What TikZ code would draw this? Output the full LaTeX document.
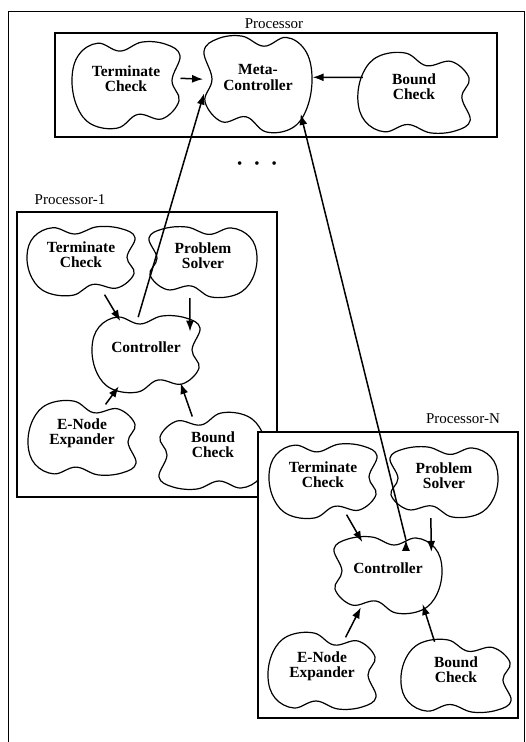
\documentclass[tikz,border=0pt]{standalone}
\usepackage{fontspec}
\setmainfont{Liberation Serif}
\usetikzlibrary{arrows.meta,shapes.geometric}
\tikzset{
  cloudn/.style={ellipse, minimum width=110pt, minimum height=74pt, inner sep=0pt, align=center, text depth=13pt, font=\fontsize{15.5}{15.5}\selectfont\bfseries},
  cloudtop/.style={cloudn, minimum height=84pt},
  cloudmeta/.style={cloudn, minimum height=94pt},
  blobline/.style={draw=black, line width=1.2pt},
  procbox/.style={draw=black, line width=1.8pt},
  framel/.style={draw=black, line width=1pt},
  plabel/.style={font=\fontsize{15}{15}\selectfont, inner sep=0pt},
  dotsn/.style={font=\fontsize{15}{15}\selectfont, inner sep=0pt},
  flow/.style={draw, line width=1.5pt, -{Latex[length=11pt,width=8pt]}},
}
\newcommand{\blobat}[2][]{%
  \draw[blobline, shift={(#2.center)}, #1] plot[smooth cycle, tension=0.65] coordinates {(-54,-6) (-47,-27) (-28,-37) (-6,-30) (16,-38) (40,-36) (54,-26) (46,-4) (53,14) (36,30) (12,26) (-8,38) (-34,35) (-49,19)};}

\begin{document}
\begin{tikzpicture}[x=1pt, y=-1pt]
  \useasboundingbox (0,0) rectangle (526,742);
  % outer frame
  \draw[framel] (8,742) -- (8,11) -- (524,11) -- (524,742);

  % processor
  \node[plabel] (lprocm) at (274,24) {Processor};
  \draw[procbox] (55,33) rectangle (497,137);
  \node[cloudtop] (tcm) at (126,85) {Terminate\\Check};
  \node[cloudmeta] (meta) at (258,84) {Meta-\\Controller};
  \node[cloudtop] (bcm) at (414,93) {Bound\\Check};
  \blobat[yscale=1.13]{tcm}
  \blobat[xscale=-1, yscale=1.26]{meta}
  \blobat[xscale=1.04, yscale=-1.05]{bcm}

  \node[dotsn] (dots) at (257,165) {\textbullet\hspace{12pt}\textbullet\hspace{12pt}\textbullet};

  % processor-1
  \node[plabel] (lproc1) at (70,200) {Processor-1};
  \draw[procbox] (17,212) rectangle (277,497);
  \node[cloudn] (tc1) at (81,261) {Terminate\\Check};
  \node[cloudn] (ps1) at (203,262) {Problem\\Solver};
  \node[cloudn] (c1) at (146,354) {Controller};
  \node[cloudn] (en1) at (82,438) {E-Node\\Expander};
  \node[cloudn] (bc1) at (213,451) {Bound\\Check};
  \blobat[yscale=0.9]{tc1}
  \blobat[xscale=-1, yscale=0.92]{ps1}
  \blobat{c1}
  \blobat[yscale=-0.97]{en1}
  \blobat[xscale=-1, yscale=-1]{bc1}

  % processor-N
  \node[plabel] (lprocn) at (463,419) {Processor-N};
  \draw[procbox, fill=white] (258,432) rectangle (518,718);
  \node[cloudn] (tcN) at (323,481) {Terminate\\Check};
  \node[cloudn] (psN) at (444,482) {Problem\\Solver};
  \node[cloudn] (cN) at (388,575) {Controller};
  \node[cloudn] (enN) at (322,671) {E-Node\\Expander};
  \node[cloudn] (bcN) at (456,676) {Bound\\Check};
  \blobat[yscale=0.97]{tcN}
  \blobat[xscale=-1, yscale=0.92]{psN}
  \blobat[xscale=-1]{cN}
  \blobat[yscale=-1]{enN}
  \blobat[xscale=1.02, yscale=-0.95]{bcN}

  \path[flow]
    (tcm.7) edge (meta.175)
    (bcm.163) edge (meta.7)
    % processor-1
    (tc1.305) edge (c1.128)
    (ps1.250) edge (c1.27)
    (en1.55) edge (c1.230)
    (bc1.121) edge (c1.320)
    (c1.102) edge (meta.190)
    % processor-N
    (tcN.305) edge (cN.128)
    (psN.250) edge (cN.28)
    (enN.55) edge (cN.230)
    (bcN.122) edge (cN.320)
    (cN.63) edge (meta.325);
\end{tikzpicture}
\end{document}
